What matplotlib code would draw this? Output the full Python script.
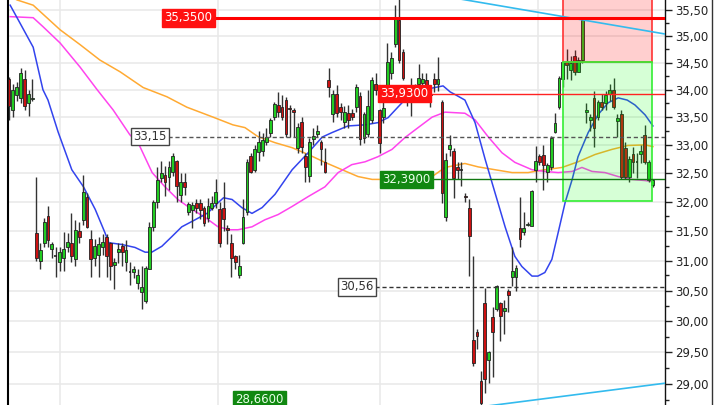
import matplotlib
matplotlib.use('Agg')
import matplotlib.pyplot as plt
from matplotlib.ticker import FixedLocator, FuncFormatter, NullFormatter
from matplotlib.patches import Rectangle
from matplotlib.lines import Line2D

# ---------------- data ----------------
opens = [34.20, 33.63, 33.90, 33.85, 34.20, 33.75, 33.83, 31.46, 31.00, 31.30,
         31.76, 31.20, 31.07, 30.98, 31.05, 31.22, 31.30, 31.02, 31.50, 31.69,
         32.09, 31.37, 31.04, 31.10, 31.22, 31.40, 31.30, 30.93, 31.15, 31.25,
         30.98, 30.80, 30.80, 30.63, 30.47, 30.33, 30.86, 31.57, 32.00, 32.42,
         32.47, 32.43, 32.52, 32.71, 32.12, 32.34, 31.82, 31.85, 31.98, 31.98,
         31.90, 31.72, 31.90, 31.98, 31.88, 31.90, 31.55, 31.30, 31.07, 30.75,
         31.30, 31.82, 32.80, 32.56, 32.88, 32.90, 33.05, 33.22, 33.50, 33.72,
         33.68, 33.81, 33.66, 33.63, 32.95, 33.42, 32.80, 32.45, 33.10, 33.20,
         33.05, 32.70, 34.18, 33.56, 33.92, 33.68, 33.42, 33.58, 33.58, 33.68,
         33.88, 33.13, 33.20, 33.45, 34.10, 33.62, 33.50, 33.98, 34.30, 34.85,
         35.30, 34.70, 33.90, 33.99, 33.95, 34.10, 34.12, 34.18, 33.92, 34.20,
         34.10, 33.77, 31.74, 32.92, 32.90, 32.60, 32.55, 32.10, 31.90, 29.70,
         29.82, 29.04, 30.30, 29.37, 30.06, 30.20, 30.30, 30.17, 30.50, 30.73,
         30.72, 31.55, 31.48, 31.60, 31.58, 32.55, 32.80, 32.82, 32.52, 32.60,
         33.24, 33.68, 34.20, 34.51, 34.36, 34.63, 34.32, 34.55, 33.60, 33.45,
         33.85, 33.50, 33.77, 33.75, 33.93, 34.00, 33.43, 33.55, 32.95, 32.44,
         32.83, 32.70, 32.83, 33.18, 32.38, 32.30]
highs = [34.24, 34.10, 34.15, 34.40, 34.36, 33.99, 34.20, 32.43, 31.30, 31.72,
         31.93, 31.32, 31.22, 31.23, 31.48, 31.46, 31.80, 31.69, 31.65, 32.46,
         32.16, 31.52, 31.36, 31.40, 31.45, 31.44, 31.32, 31.05, 31.30, 31.30,
         31.35, 30.97, 30.90, 30.85, 30.90, 30.90, 31.65, 32.03, 32.60, 32.72,
         32.62, 32.72, 32.85, 32.74, 32.50, 32.50, 32.00, 32.00, 32.05, 32.05,
         31.93, 32.07, 32.10, 32.40, 32.00, 32.35, 31.60, 31.45, 31.10, 31.10,
         32.04, 32.75, 32.85, 33.00, 33.25, 33.22, 33.30, 33.48, 33.77, 33.96,
         33.90, 33.87, 33.72, 33.66, 33.40, 33.50, 32.86, 33.12, 33.30, 33.35,
         33.09, 32.95, 34.40, 34.00, 34.08, 33.75, 33.70, 33.72, 33.65, 34.10,
         33.95, 33.60, 34.00, 34.24, 34.30, 33.65, 33.80, 34.87, 34.70, 35.60,
         35.80, 34.75, 34.05, 34.22, 34.10, 34.48, 34.30, 34.30, 34.05, 34.30,
         34.60, 33.81, 32.86, 33.18, 32.95, 32.70, 32.70, 32.16, 32.04, 31.07,
         29.87, 29.20, 30.55, 29.52, 30.23, 30.60, 30.32, 30.35, 30.52, 31.23,
         30.92, 32.09, 31.82, 31.65, 32.20, 32.98, 32.83, 33.00, 32.68, 33.16,
         33.58, 34.26, 34.52, 34.75, 34.63, 34.73, 34.60, 35.35, 33.75, 33.55,
         33.97, 33.81, 33.93, 33.98, 34.10, 34.22, 33.55, 33.62, 33.05, 32.80,
         32.97, 32.86, 33.00, 33.36, 32.74, 32.40]
lows = [33.45, 33.50, 33.80, 33.76, 33.63, 33.52, 33.80, 31.00, 30.85, 31.23,
        31.22, 31.05, 30.73, 30.82, 30.82, 31.15, 30.97, 30.90, 31.30, 31.60,
        31.55, 30.73, 30.90, 30.73, 31.10, 30.72, 30.68, 30.53, 30.95, 30.90,
        30.83, 30.60, 30.70, 30.53, 30.20, 30.30, 30.85, 31.50, 31.90, 32.35,
        32.10, 32.20, 32.45, 32.00, 32.00, 32.12, 31.77, 31.55, 31.80, 31.70,
        31.58, 31.65, 31.85, 31.90, 31.22, 31.50, 31.27, 30.72, 30.85, 30.70,
        31.27, 31.77, 32.50, 32.52, 32.72, 32.80, 33.00, 33.15, 33.44, 33.50,
        33.45, 33.15, 33.15, 33.15, 32.85, 32.85, 32.35, 32.35, 33.00, 33.15,
        32.64, 32.50, 33.87, 33.42, 33.50, 33.45, 33.30, 33.30, 33.45, 33.60,
        33.00, 33.04, 33.15, 33.40, 33.90, 32.85, 33.40, 33.93, 34.20, 34.80,
        34.50, 34.18, 33.70, 33.52, 33.80, 33.95, 33.90, 33.80, 33.68, 33.95,
        33.98, 31.98, 31.67, 32.80, 32.07, 32.40, 32.28, 31.99, 30.74, 29.28,
        29.55, 28.66, 28.86, 29.02, 29.10, 30.17, 29.68, 29.80, 30.15, 30.57,
        30.50, 31.22, 31.43, 31.58, 31.58, 32.35, 32.65, 32.20, 32.35, 32.55,
        33.22, 33.65, 34.05, 34.20, 34.18, 34.27, 34.32, 34.50, 33.40, 33.25,
        32.97, 33.45, 33.62, 33.62, 33.80, 33.65, 33.15, 32.40, 32.40, 32.35,
        32.50, 32.42, 32.68, 32.66, 32.35, 32.26]
closes = [33.70, 33.99, 34.05, 34.31, 33.70, 33.93, 33.85, 31.04, 31.18, 31.66,
          31.35, 31.28, 31.08, 31.14, 31.20, 31.32, 31.08, 31.52, 31.40, 32.17,
          31.57, 31.02, 31.24, 31.27, 31.32, 31.08, 30.90, 30.98, 31.20, 31.15,
          31.17, 30.80, 30.85, 30.76, 30.56, 30.88, 31.57, 32.00, 32.38, 32.50,
          32.35, 32.60, 32.80, 32.28, 32.35, 32.25, 31.96, 31.95, 31.90, 31.85,
          31.64, 31.92, 31.98, 32.17, 31.30, 31.70, 31.52, 31.05, 30.97, 30.90,
          31.74, 32.70, 32.52, 32.92, 33.05, 33.08, 33.14, 33.45, 33.74, 33.60,
          33.50, 33.20, 33.64, 33.60, 33.33, 32.97, 32.60, 33.05, 33.16, 33.25,
          32.93, 32.52, 34.05, 33.92, 33.58, 33.60, 33.60, 33.45, 33.50, 34.05,
          33.10, 33.55, 33.70, 34.18, 34.00, 33.04, 33.66, 34.52, 34.58, 35.34,
          34.55, 34.22, 34.00, 33.81, 34.05, 34.22, 34.20, 34.08, 33.90, 34.10,
          34.20, 32.16, 32.74, 33.00, 32.42, 32.55, 32.55, 32.08, 31.42, 29.33,
          29.76, 28.70, 29.07, 29.50, 29.83, 30.57, 30.08, 30.22, 30.42, 30.83,
          30.88, 31.37, 31.55, 31.62, 32.18, 32.72, 32.70, 32.64, 32.64, 33.13,
          33.40, 34.22, 34.51, 34.45, 34.50, 34.32, 34.55, 35.30, 33.62, 33.50,
          33.30, 33.77, 33.68, 33.90, 33.99, 33.68, 33.48, 32.44, 32.44, 32.75,
          32.70, 32.70, 32.90, 32.70, 32.70, 32.38]

# moving averages sampled along the chart (bar index, price)
ma_fast_idx = [0.3, 2.8, 6.2, 8.7, 10, 12.6, 16.1, 19.1, 22.1, 24.6, 25.6, 28.9, 32.3, 34.9,
               36.6, 39.2, 41.7, 44.3, 47.7, 51.0, 53.7, 55.0, 57.2, 59.7, 62.3, 64.9, 68.2,
               72.6, 76.7, 80.3, 82.8, 86.9, 91.3, 94.6, 97.2, 99.7, 102.1, 104.9, 108.5,
               111.3, 113.1, 114.4, 116.9, 119.5, 122.1, 124.6, 127.2, 129.7, 131.5, 134.1,
               135.6, 137.4, 139.2, 140.8, 142.6, 144.4, 145.9, 148.5, 151.0, 153.6, 156.2,
               158.5, 160.5, 163.1, 165.1]
ma_fast_val = [35.59, 35.25, 34.79, 34.00, 33.81, 33.23, 32.56, 32.26, 31.87, 31.47, 31.30,
               31.27, 31.22, 31.14, 31.14, 31.24, 31.40, 31.57, 31.69, 31.81, 31.99, 32.07,
               32.04, 31.90, 31.80, 31.90, 32.13, 32.56, 32.86, 33.14, 33.22, 33.34, 33.36,
               33.40, 33.49, 33.68, 33.86, 34.01, 34.03, 34.07, 33.96, 33.91, 33.81, 33.40,
               32.74, 32.16, 31.57, 31.07, 30.90, 30.74, 30.74, 30.80, 31.02, 31.47, 31.99,
               32.39, 32.79, 33.22, 33.54, 33.76, 33.85, 33.81, 33.72, 33.54, 33.34]

ma_mid_idx = [0.3, 6.2, 8.7, 13.1, 18.2, 22.6, 26.7, 31.0, 33.1, 36.7, 40.0, 43.3, 46.9,
              50.3, 53.6, 56.7, 58.7, 62.3, 65.6, 69.0, 72.6, 76.7, 81.0, 84.4, 87.9, 91.3,
              94.6, 98.2, 101.5, 104.9, 108.5, 111.8, 116.9, 119.5, 122.8, 126.4, 129.7,
              134.1, 137.4, 140.8, 144.4, 146.9, 149.5, 152.8, 156.2, 159.7, 163.1, 165.1]
ma_mid_val = [35.37, 35.35, 35.18, 34.87, 34.42, 34.00, 33.63, 33.18, 33.04, 32.51, 32.26,
              32.04, 31.87, 31.73, 31.57, 31.52, 31.52, 31.57, 31.69, 31.78, 31.92, 32.09,
              32.26, 32.51, 32.65, 32.70, 32.79, 32.92, 33.13, 33.31, 33.50, 33.59, 33.57,
              33.45, 33.15, 32.86, 32.69, 32.56, 32.53, 32.51, 32.53, 32.60, 32.53, 32.51,
              32.44, 32.39, 32.37, 32.35]

ma_slow_idx = [0.3, 2.1, 6.2, 13.1, 18.2, 23.3, 28.5, 34.4, 40.5, 45.6, 52.3, 57.4, 60.5,
               63.8, 68.2, 72.6, 76.7, 81.0, 85.4, 89.5, 93.1, 95.6, 100.3, 105.4, 108.5,
               111.8, 116.9, 120.3, 124.6, 129.0, 133.1, 137.4, 141.8, 145.9, 150.3, 154.6,
               158.7, 163.1, 165.1]
ma_slow_val = [35.76, 35.69, 35.59, 35.12, 34.84, 34.55, 34.33, 34.04, 33.87, 33.68, 33.50,
               33.36, 33.31, 33.15, 33.04, 32.95, 32.83, 32.69, 32.56, 32.44, 32.39, 32.39,
               32.39, 32.40, 32.44, 32.60, 32.67, 32.61, 32.56, 32.51, 32.51, 32.56, 32.60,
               32.70, 32.83, 32.92, 32.99, 33.00, 32.97]

# price levels / drawing tools
level_labels = ["35,3500", "33,9300", "33,15", "32,3900", "30,56", "28,6600"]
level_values = [35.35, 33.93, 33.15, 32.39, 30.56, 28.66]
trend_up_idx = [104.0, 168.2]
trend_up_val = [35.86, 35.04]
trend_dn_idx = [118.2, 168.2]
trend_dn_val = [28.62, 29.01]
box_idx = [142.1, 164.9]
box_stop = [34.51, 36.2]
box_target = [32.02, 34.51]
vgrid_idx = [13.1, 53.6, 95.1, 135.6]
y_ticks = [29.0, 29.5, 30.0, 30.5, 31.0, 31.5, 32.0, 32.5, 33.0, 33.5, 34.0, 34.5, 35.0, 35.5]
y_minor = [28.75, 29.25, 29.75, 30.25, 30.75, 31.25, 31.75, 32.25, 32.75, 33.25, 33.75,
           34.25, 34.75, 35.25]

# ---------------- figure ----------------
fig = plt.figure(figsize=(7.2, 4.05), dpi=100)
fig.patch.set_facecolor('white')
ax = fig.add_axes([7.5 / 720, 0, (665 - 7.5) / 720, 1])
ax.set_facecolor('white')
ax.set_yscale('log')
ax.set_ylim(28.67, 35.69)
ax.set_xlim(-0.385, 168.2)

# grid
ax.yaxis.tick_right()
ax.yaxis.set_major_locator(FixedLocator(y_ticks))
ax.yaxis.set_minor_locator(FixedLocator(y_minor))
ax.yaxis.set_major_formatter(FuncFormatter(lambda v, p: f"{v:.2f}".replace('.', ',')))
ax.yaxis.set_minor_formatter(NullFormatter())
ax.set_xticks(vgrid_idx)
ax.tick_params(axis='x', length=0, labelbottom=False)
ax.tick_params(axis='y', which='major', length=5, width=1, color='#222222',
               labelsize=8.5, labelcolor='#222222', pad=2)
ax.tick_params(axis='y', which='minor', length=3, width=1, color='#222222')
ax.grid(True, which='major', color='#e8e8e8', lw=1.1)
ax.set_axisbelow(True)
for s in ['top', 'bottom']:
    ax.spines[s].set_visible(False)
ax.spines['left'].set_color('black')
ax.spines['left'].set_linewidth(1.5)
ax.spines['right'].set_color('#111111')
ax.spines['right'].set_linewidth(1)

# moving averages
ax.plot(ma_slow_idx, ma_slow_val, color='#ffaa33', lw=1.1, zorder=2)
ax.plot(ma_mid_idx, ma_mid_val, color='#ff44ee', lw=1.1, zorder=2)
ax.plot(ma_fast_idx, ma_fast_val, color='#3344ee', lw=1.1, zorder=2)

# candles
for i, (o, h, l, c) in enumerate(zip(opens, highs, lows, closes)):
    ax.vlines(i, l, h, color='#333333', lw=1, zorder=3)
    if abs(c - o) < 0.015:
        ax.hlines(c, i - 0.35, i + 0.35, color='#222222', lw=1.2, zorder=4)
        continue
    col = '#22cc22' if c > o else '#cc1111'
    ax.bar(i, abs(c - o), bottom=min(o, c), width=0.72, color=col,
           edgecolor='#222222', linewidth=0.6, zorder=4)

# position boxes
ax.add_patch(Rectangle((box_idx[0], box_stop[0]), box_idx[1] - box_idx[0],
                       box_stop[1] - box_stop[0], facecolor=(1, 0, 0, 0.19),
                       edgecolor='#ff3333', lw=1.2, zorder=5))
ax.add_patch(Rectangle((box_idx[0], box_target[0]), box_idx[1] - box_idx[0],
                       box_target[1] - box_target[0], facecolor=(0, 1, 0, 0.16),
                       edgecolor='#33ee33', lw=1.2, zorder=5))

# trend lines
ax.plot(trend_up_idx, trend_up_val, color='#33bbee', lw=1.2, zorder=6)
ax.plot(trend_dn_idx, trend_dn_val, color='#33bbee', lw=1.2, zorder=6)

# level lines with labels
xr = 168.2
lab_right = [52.6, 108.0, 40.8, 108.5, 93.8, 70.8]
lab_shift = [0, 0, 0, 0, 0, 0.09]   # bottom label nudged up so it stays readable
styles = [
    dict(color='#ff0000', lw=2.2, ls='-'),
    dict(color='#ff2222', lw=1.0, ls='-'),
    dict(color='#555555', lw=1.0, ls=(0, (3, 2))),
    dict(color='#117711', lw=1.0, ls='-'),
    dict(color='#333333', lw=1.0, ls=(0, (3, 2))),
    dict(color='#77cc77', lw=1.4, ls='-'),
]
boxes = [
    dict(fc='#ff1111', ec='#ff1111', tc='white'),
    dict(fc='#ff1111', ec='#ff1111', tc='white'),
    dict(fc='white', ec='#444444', tc='#333333'),
    dict(fc='#118811', ec='#118811', tc='#e8ffe8'),
    dict(fc='white', ec='#444444', tc='#333333'),
    dict(fc='#118811', ec='#118811', tc='#e8ffe8'),
]
for lab, val, xl, dv, st, bx in zip(level_labels, level_values, lab_right, lab_shift,
                                    styles, boxes):
    ax.plot([xl, xr], [val, val], zorder=6, **st)
    ax.text(xl - 0.4, val + dv, lab, ha='right', va='center', fontsize=8.5,
            color=bx['tc'], zorder=8, clip_on=False,
            bbox=dict(boxstyle='square,pad=0.2', fc=bx['fc'], ec=bx['ec'], lw=1))

# outer border on the right
fig.add_artist(Line2D([712 / 720, 712 / 720], [0, 1], color='#333333', lw=1))

fig.savefig('out.png', dpi=100, facecolor='white')
